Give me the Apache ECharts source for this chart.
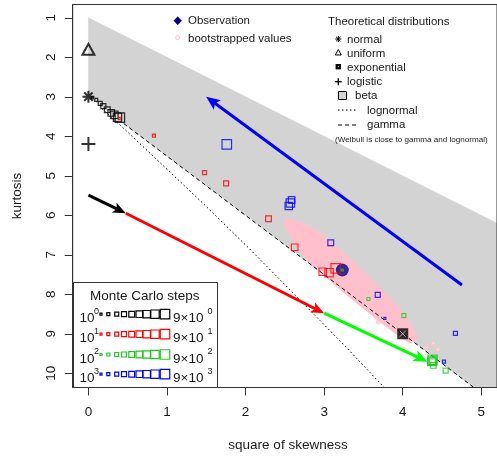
<!DOCTYPE html>
<html><head><meta charset="utf-8">
<script src="https://cdn.jsdelivr.net/npm/echarts@6/dist/echarts.min.js"></script>
<style>html,body{margin:0;padding:0;background:#fff}#c{width:497px;height:457px}</style>
</head><body><div id="c"></div>
<script>
// ---------- data ----------
const xTicks = [0, 1, 2, 3, 4, 5];
const yTicks = [1, 2, 3, 4, 5, 6, 7, 8, 9, 10];
const observation = [[3.231, 7.386]];
const normalPt = [[0, 3]];
const uniformPt = [[0, 1.8]];
const logisticPt = [[0, 4.2]];
const exponentialPt = [[4, 9]];
const betaRegion = [[0, 1], [5.3, 6.3], [5.3, 10.36], [4.91, 10.36], [0, 3]];
const lognormalCurve = [[0.17, 3.30], [0.47, 3.84], [0.96, 4.76], [1.49, 5.76], [2.05, 6.85], [2.64, 8.04], [3.27, 9.32], [3.93, 10.71]];
const gammaLine = [[0.45, 3.68], [5.3, 10.95]];
const bootCloud = [[2.508, 6.070], [2.709, 6.171], [2.959, 6.449], [3.210, 6.880], [3.460, 7.335], [3.711, 7.841], [3.961, 8.347], [4.124, 8.778], [4.187, 9.158],
  [4.086, 9.234], [3.899, 8.980], [3.711, 8.702], [3.460, 8.297], [3.210, 7.892], [2.959, 7.462], [2.746, 7.057], [2.596, 6.627], [2.508, 6.323]];
const bootOutliers = [[3.69, 8.70], [4.39, 9.24], [4.45, 9.40], [4.30, 9.35]];
const stepsK0 = [[0.05, 3.03], [0.10, 3.08], [0.15, 3.17], [0.19, 3.24], [0.24, 3.33], [0.29, 3.41], [0.33, 3.46], [0.37, 3.52], [0.40, 3.53]];
const stepsK1 = [[0.392, 3.546], [0.834, 3.987], [1.478, 4.923], [1.753, 5.191], [2.292, 6.087], [2.625, 6.811], [2.981, 7.429], [3.063, 7.454], [3.147, 7.343]];
const stepsK2 = [[3.231, 7.386], [3.564, 8.120], [4.015, 8.542], [4.546, 9.934], [4.39, 9.80], [4.38, 9.72], [4.38, 9.68], [4.37, 9.70], [4.38, 9.66]];
const stepsK3 = [[3.773, 8.608], [4.525, 9.707], [4.671, 8.988], [3.682, 8.018], [3.084, 6.695], [2.586, 5.614], [2.550, 5.766], [2.57, 5.69], [1.761, 4.204]];
const arrowBlack = [0, 5.49, 0.476, 5.95];
const arrowRed = [0.476, 5.95, 3.0, 8.48];
const arrowGreen = [3.0, 8.48, 4.316, 9.707];
const arrowBlue = [4.754, 7.766, 1.498, 3.0];
const stepRowLabels = ['0', '1', '2', '3'];

// ---------- styling ----------
const FONT = '"Liberation Sans", Arial, Helvetica, sans-serif';
const TXT = '#1a1a1a';
const X_MIN = -0.2, X_MAX = 5.2, Y_MIN = 0.666, Y_MAX = 10.36;
const stepSizes = [2, 3, 4, 5, 5.8, 6.6, 7.4, 8.4, 9.5];
const stepColors = ['#000000', '#FF0000', '#1DC91D', '#0000FF'];

const chart = echarts.init(document.getElementById('c'));

function polySeries(points, fill, z) {
  return {
    type: 'custom', coordinateSystem: 'cartesian2d', z: z, clip: true, silent: true,
    data: [points[0]],
    renderItem: function (params, api) {
      return { type: 'polygon', shape: { points: points.map(p => api.coord(p)) }, style: { fill: fill, stroke: fill, lineWidth: 0.5 } };
    }
  };
}
function arrowSeries(a, color, head) {
  return {
    type: 'custom', coordinateSystem: 'cartesian2d', z: 20, clip: false, silent: true,
    data: [a],
    renderItem: function (params, api) {
      const p1 = api.coord([api.value(0), api.value(1)]);
      const p2 = api.coord([api.value(2), api.value(3)]);
      const dx = p2[0] - p1[0], dy = p2[1] - p1[1], L = Math.hypot(dx, dy);
      const ux = dx / L, uy = dy / L, hw = head * 0.42;
      const b = [p2[0] - ux * head, p2[1] - uy * head];
      return { type: 'group', children: [
        { type: 'line', shape: { x1: p1[0], y1: p1[1], x2: b[0] + ux * 3, y2: b[1] + uy * 3 }, style: { stroke: color, lineWidth: 3 } },
        { type: 'polygon', shape: { points: [p2, [b[0] - uy * hw, b[1] + ux * hw], [b[0] + ux * 3, b[1] + uy * 3], [b[0] + uy * hw, b[1] - ux * hw]] }, style: { fill: color } }
      ] };
    }
  };
}
function stepSeries(data, color) {
  return {
    type: 'scatter', z: 15, data: data, symbol: 'rect',
    symbolSize: function (v, p) { return stepSizes[p.dataIndex]; },
    itemStyle: { color: 'rgba(0,0,0,0)', borderColor: color, borderWidth: 1.2 }, silent: true
  };
}
// y-axis tick marks drawn through the axis scale
const yTickSeries = {
  type: 'custom', coordinateSystem: 'cartesian2d', z: 40, clip: false, silent: true,
  data: yTicks.map(v => [X_MIN, v]),
  renderItem: function (params, api) {
    const p = api.coord([api.value(0), api.value(1)]);
    const y = Math.round(p[1]) + 0.5;
    return { type: 'line', shape: { x1: p[0] - 8, y1: y, x2: p[0], y2: y }, style: { stroke: '#333', lineWidth: 1 } };
  }
};
const ASTER = 'path://M5,0L5,10M0,5L10,5M1.5,1.5L8.5,8.5M8.5,1.5L1.5,8.5';
const PLUS = 'path://M5,0L5,10M0,5L10,5';
const XMARK = 'path://M0,0L10,10M10,0L0,10';

// ---------- graphics (legends, titles) ----------
const g = [];
function txt(x, y, s, size, align) {
  g.push({ type: 'text', x: x, y: y, z: 100, style: { text: s, fill: TXT, font: size + 'px ' + FONT, align: align || 'left', verticalAlign: 'middle' } });
}
txt(288, 445, 'square of skewness', 13.5, 'center');
g.push({ type: 'text', x: 17, y: 196, rotation: Math.PI / 2, z: 100, style: { text: 'kurtosis', fill: TXT, font: '13.5px ' + FONT, align: 'center', verticalAlign: 'middle' } });
// top-left legend
g.push({ type: 'polygon', z: 100, shape: { points: [[177.7, 16.5], [181.9, 20.7], [177.7, 24.9], [173.5, 20.7]] }, style: { fill: '#00008B' } });
g.push({ type: 'circle', z: 100, shape: { cx: 177.7, cy: 37.7, r: 2 }, style: { fill: 'none', stroke: '#FFC0CB', lineWidth: 1 } });
txt(188, 21, 'Observation', 11.5);
txt(188, 38.5, 'bootstrapped values', 11.5);
// theoretical legend
txt(328, 22, 'Theoretical distributions', 11.5);
txt(347, 39.5, 'normal', 11.5);
txt(347, 53.5, 'uniform', 11.5);
txt(347, 67.5, 'exponential', 11.5);
txt(347, 82, 'logistic', 11.5);
txt(355, 96, 'beta', 11.5);
txt(367, 110.5, 'lognormal', 11.5);
txt(367, 125, 'gamma', 11.5);
txt(335, 139.5, '(Weibull is close to gamma and lognormal)', 8.1);
// legend symbols
const lsx = 338.3;
[[0, -3, 0, 3], [-3, 0, 3, 0], [-2.2, -2.2, 2.2, 2.2], [2.2, -2.2, -2.2, 2.2]].forEach(s => g.push({ type: 'line', z: 100, shape: { x1: lsx + s[0], y1: 39 + s[1], x2: lsx + s[2], y2: 39 + s[3] }, style: { stroke: '#000', lineWidth: 1 } }));
g.push({ type: 'polygon', z: 100, shape: { points: [[lsx, 49.5], [lsx + 3, 55], [lsx - 3, 55]] }, style: { fill: 'none', stroke: '#000', lineWidth: 1 } });
g.push({ type: 'rect', z: 100, shape: { x: lsx - 2.7, y: 64, width: 5.4, height: 5.4 }, style: { fill: '#000' } });
g.push({ type: 'rect', z: 101, shape: { x: lsx - 0.5, y: 66.2, width: 1, height: 1 }, style: { fill: '#fff' } });
[[0, -3.5, 0, 3.5], [-3.5, 0, 3.5, 0]].forEach(s => g.push({ type: 'line', z: 100, shape: { x1: lsx + s[0], y1: 81.7 + s[1], x2: lsx + s[2], y2: 81.7 + s[3] }, style: { stroke: '#000', lineWidth: 1.3 } }));
g.push({ type: 'rect', z: 100, shape: { x: 338.5, y: 91.5, width: 8, height: 8 }, style: { fill: '#D3D3D3', stroke: '#000', lineWidth: 1 } });
g.push({ type: 'line', z: 100, shape: { x1: 338, y1: 110, x2: 358, y2: 110 }, style: { stroke: '#000', lineWidth: 1, lineDash: [1.5, 2.5] } });
g.push({ type: 'line', z: 100, shape: { x1: 338, y1: 125, x2: 358, y2: 125 }, style: { stroke: '#000', lineWidth: 1, lineDash: [4, 3] } });
// Monte Carlo steps legend box
g.push({ type: 'rect', z: 90, shape: { x: 73.5, y: 282.5, width: 144, height: 105 }, style: { fill: '#fff', stroke: '#333', lineWidth: 1 } });
txt(144.7, 296, 'Monte Carlo steps', 13.5, 'center');
const rowY = [316.7, 336.7, 357, 376.7];
const legX = [101, 108.3, 116.7, 124, 131.7, 139.3, 146.7, 155, 165];
stepRowLabels.forEach((k, r) => {
  txt(79.5, rowY[r] + 2, '10', 13.5);
  txt(94, rowY[r] - 5, k, 9);
  txt(173, rowY[r] + 2, '9\u00D710', 13.5);
  txt(207.5, rowY[r] - 5, k, 9);
  legX.forEach((x, i) => {
    const s = stepSizes[i];
    g.push({ type: 'rect', z: 95, shape: { x: x - s / 2, y: rowY[r] - 2.5 - s / 2, width: s, height: s }, style: { fill: 'none', stroke: stepColors[r], lineWidth: 1.2 } });
  });
});

const option = {
  animation: false,
  backgroundColor: '#fff',
  grid: { left: 72.7, top: 4.5, width: 431.2, height: 383, show: true, borderColor: '#333', borderWidth: 1, backgroundColor: 'transparent', z: 30 },
  xAxis: {
    type: 'value', min: X_MIN, max: X_MAX,
    axisLine: { show: true, onZero: false, lineStyle: { color: '#333', width: 1 } }, splitLine: { show: false },
    axisTick: { show: true, customValues: xTicks, length: 8, lineStyle: { color: '#333' } },
    axisLabel: { customValues: xTicks, fontSize: 13.5, fontFamily: FONT, color: TXT, margin: 18 }
  },
  yAxis: {
    type: 'value', inverse: true, min: Y_MIN, max: Y_MAX,
    axisLine: { show: true, onZero: false, lineStyle: { color: '#333', width: 1 } }, splitLine: { show: false },
    axisTick: { show: false },
    axisLabel: { customValues: yTicks, rotate: 90, fontSize: 13.5, fontFamily: FONT, color: TXT, margin: 14 }
  },
  graphic: g,
  series: [
    polySeries(betaRegion, '#D3D3D3', 1),
    polySeries(bootCloud, '#FFC0CB', 2),
    { type: 'scatter', z: 3, data: bootOutliers, symbol: 'emptyCircle', symbolSize: 3, itemStyle: { color: '#FFC0CB', borderColor: '#FFC0CB' }, silent: true },
    { type: 'line', z: 4, data: lognormalCurve, showSymbol: false, symbol: 'none', lineStyle: { color: '#000', width: 1, type: [1.5, 2.5] }, silent: true },
    { type: 'line', z: 4, data: gammaLine, showSymbol: false, symbol: 'none', lineStyle: { color: '#000', width: 1, type: [4, 3] }, silent: true },
    { type: 'scatter', z: 6, data: normalPt, symbol: ASTER, symbolSize: 12, itemStyle: { color: 'rgba(0,0,0,0)', borderColor: '#000', borderWidth: 2 }, silent: true },
    { type: 'scatter', z: 6, data: uniformPt, symbol: 'triangle', symbolSize: [12, 11], itemStyle: { color: 'rgba(0,0,0,0)', borderColor: '#000', borderWidth: 2 }, silent: true },
    { type: 'scatter', z: 6, data: logisticPt, symbol: PLUS, symbolSize: 14, itemStyle: { color: 'rgba(0,0,0,0)', borderColor: '#000', borderWidth: 2 }, silent: true },
    { type: 'scatter', z: 6, data: exponentialPt, symbol: 'rect', symbolSize: 11, itemStyle: { color: '#000' }, silent: true },
    { type: 'scatter', z: 7, data: exponentialPt, symbol: XMARK, symbolSize: 6, itemStyle: { color: 'rgba(0,0,0,0)', borderColor: '#fff', borderWidth: 0.8 }, silent: true },
    { type: 'scatter', z: 8, data: observation, symbol: 'circle', symbolSize: 13, itemStyle: { color: '#00008B' }, silent: true },
    stepSeries(stepsK0, stepColors[0]),
    stepSeries(stepsK1, stepColors[1]),
    stepSeries(stepsK2, stepColors[2]),
    stepSeries(stepsK3, stepColors[3]),
    arrowSeries(arrowBlack, '#000000', 13),
    arrowSeries(arrowRed, '#FF0000', 13),
    arrowSeries(arrowGreen, '#00FF00', 14),
    arrowSeries(arrowBlue, '#0000FF', 14),
    yTickSeries
  ]
};
chart.setOption(option);
</script></body></html>
